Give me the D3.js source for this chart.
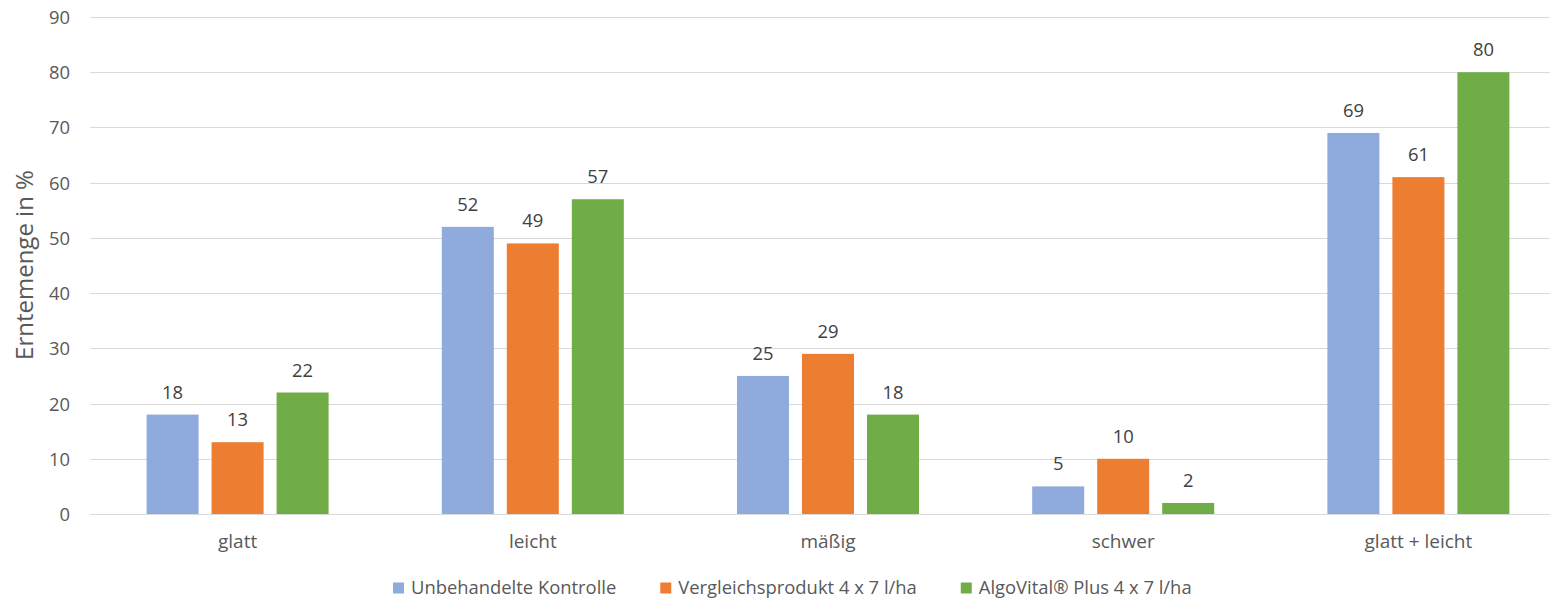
<!DOCTYPE html>
<html>
<head>
<meta charset="utf-8">
<script src="https://cdn.jsdelivr.net/npm/d3@7"></script>
<style>
  html, body { margin: 0; padding: 0; background: #fff; }
  svg { display: block; font-family: "Open Sans", sans-serif; }
</style>
</head>
<body>
<svg id="chart" width="1550" height="599"></svg>
<script>
// Harvest share per sorting class and treatment
const categories = ["glatt", "leicht", "mäßig", "schwer", "glatt + leicht"];
const seriesNames = ["Unbehandelte Kontrolle", "Vergleichsprodukt 4 x 7 l/ha", "AlgoVital® Plus 4 x 7 l/ha"];
const kontrolle = [18, 52, 25, 5, 69];
const vergleich = [13, 49, 29, 10, 61];
const algovital = [22, 57, 18, 2, 80];
const yTicks = [0, 10, 20, 30, 40, 50, 60, 70, 80, 90];
const colors = ["#8FAADC", "#ED7D31", "#70AD47"];

const seriesValues = [kontrolle, vergleich, algovital];
const rows = categories.map((c, i) => ({
  cat: c,
  vals: seriesNames.map((s, j) => ({ key: s, value: seriesValues[j][i], idx: j }))
}));

const svg = d3.select("#chart");
const margin = { left: 90, right: 1566, top: 17, bottom: 514 };
const textColor = "#595959";
const numSize = "18.4px";

const x0 = d3.scaleBand().domain(categories).range([margin.left, margin.right]).paddingInner(0).paddingOuter(0);
// group of three bars with gaps of a quarter bar width
const groupWidth = 182;
const x1 = d3.scaleBand().domain(seriesNames)
  .range([(x0.bandwidth() - groupWidth) / 2, (x0.bandwidth() + groupWidth) / 2])
  .paddingInner(0.2).paddingOuter(0);
const y = d3.scaleLinear().domain([0, 90]).range([margin.bottom, margin.top]);

// gridlines
svg.append("g").selectAll("line").data(yTicks).join("line")
  .attr("x1", margin.left).attr("x2", margin.right)
  .attr("y1", d => Math.round(y(d)) + 0.5).attr("y2", d => Math.round(y(d)) + 0.5)
  .attr("stroke", "#D9D9D9").attr("stroke-width", 1);

// y axis labels
const yAxis = d3.axisLeft(y).tickValues(yTicks).tickSize(0).tickPadding(0);
const gy = svg.append("g").attr("transform", "translate(70,0)").call(yAxis);
gy.select(".domain").remove();
gy.selectAll("text").attr("fill", textColor).style("font-size", numSize)
  .style("font-family", "'Open Sans', sans-serif").attr("dy", "0.35em");

// bars
const groups = svg.append("g").selectAll("g").data(rows).join("g")
  .attr("transform", d => `translate(${x0(d.cat)},0)`);
groups.selectAll("rect").data(d => d.vals).join("rect")
  .attr("x", d => x1(d.key))
  .attr("width", x1.bandwidth())
  .attr("y", d => y(d.value))
  .attr("height", d => y(0) - y(d.value))
  .attr("fill", d => colors[d.idx]);

// value labels
groups.selectAll("text").data(d => d.vals).join("text")
  .attr("x", d => x1(d.key) + x1.bandwidth() / 2)
  .attr("y", d => y(d.value) - 16)
  .attr("text-anchor", "middle")
  .attr("fill", "#404040")
  .style("font-size", numSize)
  .text(d => d.value);

// x axis labels
const xAxis = d3.axisBottom(x0).tickSize(0).tickPadding(0);
const gx = svg.append("g").attr("transform", `translate(0,${margin.bottom})`).call(xAxis);
gx.select(".domain").remove();
gx.selectAll("text").attr("fill", textColor).style("font-size", "19px")
  .style("font-family", "'Open Sans', sans-serif").attr("y", 34).attr("dy", 0);

// axis title
svg.append("text")
  .attr("transform", "translate(33,265) rotate(-90)")
  .attr("text-anchor", "middle")
  .attr("fill", textColor)
  .style("font-size", "24px")
  .text("Erntemenge in %");

// legend
const legend = svg.append("g").attr("transform", "translate(393,588)");
let lx = 0;
seriesNames.forEach((name, i) => {
  const item = legend.append("g").attr("transform", `translate(${lx},0)`);
  item.append("rect").attr("x", 0).attr("y", -5.5).attr("width", 11).attr("height", 11).attr("fill", colors[i]);
  const t = item.append("text").attr("x", 18).attr("y", 0).attr("dy", "0.35em")
    .attr("fill", textColor).style("font-size", "18.4px").text(name);
  lx += 18 + t.node().getComputedTextLength() + 44;
});
</script>
</body>
</html>
